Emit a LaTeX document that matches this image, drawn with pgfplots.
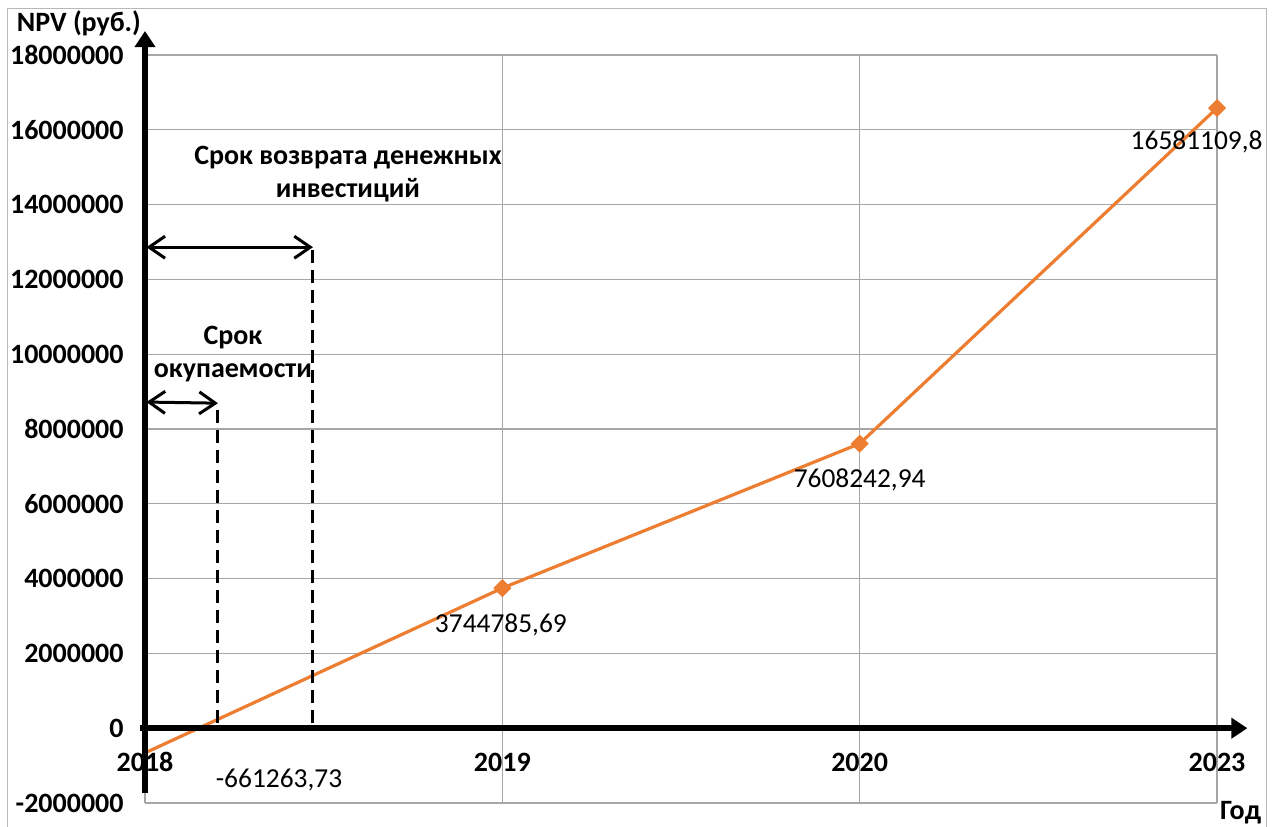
\documentclass[border=0pt]{standalone}
\usepackage{fontspec}
\setmainfont{Carlito}
\usepackage{pgfplots}
\pgfplotsset{compat=1.18}
\usetikzlibrary{arrows.meta}
\definecolor{orng}{HTML}{ED7D31}
\definecolor{gridc}{HTML}{A6A6A6}
\begin{document}
\begin{tikzpicture}
\begin{axis}[name=ax, scale only axis, width=536pt, height=374pt,
 xmin=0, xmax=3, ymin=-2000000, ymax=18000000,
 xtick={0,1,2,3}, xticklabels={2018,2019,2020,2023},
 ytick={-2000000,0,2000000,4000000,6000000,8000000,10000000,12000000,14000000,16000000,18000000},
 yticklabels={-2000000,0,2000000,4000000,6000000,8000000,10000000,12000000,14000000,16000000,18000000},
 axis line style={draw=none}, major tick length=0pt,
 grid=major, grid style={gridc, line width=0.6pt},
 tick label style={font=\fontsize{14}{17}\selectfont\bfseries},
 yticklabel style={anchor=east, inner sep=0pt, xshift=-10.5pt},
 xticklabel style={anchor=center, inner sep=0pt, yshift=20.5pt},
 scaled y ticks=false,
 clip=false,
]
% outer frame
\draw[gridc!80, line width=0.5pt] (rel axis cs:-0.1287,-0.06) -- (rel axis cs:-0.1287,1.0628) -- (rel axis cs:1.0466,1.0628) -- (rel axis cs:1.0466,-0.06);
\addplot[color=orng, line width=1.6pt, mark=square*, mark size=2.4pt, mark indices={2,3,4}, mark options={rotate=45, fill=orng, solid}]
 coordinates {(0,-661263.73) (1,3744785.69) (2,7608242.94) (3,16581109.8)};
% axes with arrows
\draw[line width=2.8pt, -{Triangle[length=8pt,width=10pt]}] (axis cs:0,-1730000) -- (axis cs:0,18640000);
\draw[line width=2.8pt, -{Triangle[length=8pt,width=10pt]}] (axis cs:-0.014,0) -- (axis cs:3.085,0);
% dashed lines
\draw[line width=1.5pt, dash pattern=on 6.5pt off 3.5pt] (axis cs:0.204,150000) -- (axis cs:0.204,8690000);
\draw[line width=1.5pt, dash pattern=on 6.5pt off 3.5pt] (axis cs:0.470,150000) -- (axis cs:0.470,12860000);
% double arrows
\draw[line width=1.5pt, {Straight Barb[length=8pt,width=11pt]}-{Straight Barb[length=8pt,width=11pt]}] (axis cs:0.004,8720000) -- (axis cs:0.204,8690000);
\draw[line width=1.5pt, {Straight Barb[length=8pt,width=11pt]}-{Straight Barb[length=8pt,width=11pt]}] (axis cs:0.004,12860000) -- (axis cs:0.470,12860000);
% annotation texts
\node[align=center, font=\fontsize{14}{16.5}\selectfont\bfseries] at (axis cs:0.246,10000000) {Срок\\окупаемости};
\node[align=center, font=\fontsize{14}{16.5}\selectfont\bfseries] at (axis cs:0.568,14810000) {Срок возврата денежных\\инвестиций};
% data labels
\node[font=\fontsize{13.7}{16}\selectfont] at (axis cs:0.375,-1390000) {-661263,73};
\node[font=\fontsize{13.7}{16}\selectfont] at (axis cs:0.996,2754000) {3744785,69};
\node[font=\fontsize{13.7}{16}\selectfont] at (axis cs:2.0,6630000) {7608242,94};
\node[font=\fontsize{13.7}{16}\selectfont] at (axis cs:2.943,15670000) {16581109,8};
% axis titles
\node[font=\fontsize{14}{17}\selectfont\bfseries] at (axis cs:-0.185,18850000) {NPV (руб.)};
\node[font=\fontsize{14}{17}\selectfont\bfseries] at (axis cs:3.066,-2270000) {Год};
\end{axis}
\pgfresetboundingbox
\path ([shift={(-72.5pt,-12pt)}]ax.south west) rectangle ([shift={(29.5pt,27.5pt)}]ax.north east);
\end{tikzpicture}
\end{document}
